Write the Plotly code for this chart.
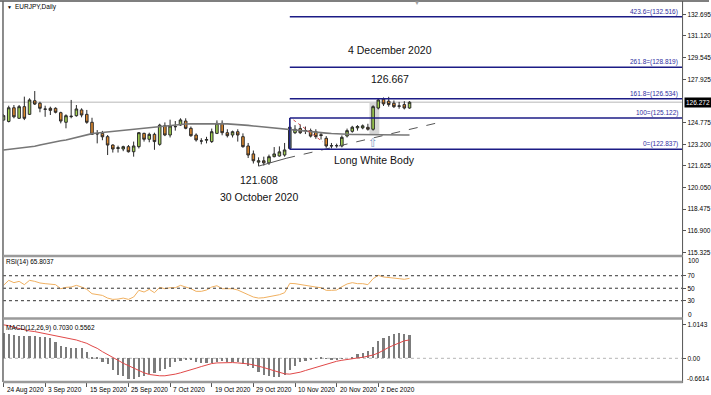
import plotly.graph_objects as go

W, H = 711, 395
def px(x): return x / W
def py(y): return 1 - y / H

# ---------------- data ----------------
opens = [124.97,124.87,125.87,125.10,125.95,125.39,126.38,126.20,125.78,125.83,
         125.83,125.51,124.81,125.22,125.29,125.71,125.39,124.81,123.99,124.00,
         123.76,123.15,122.90,122.86,123.03,122.66,123.03,124.00,123.57,123.93,
         123.20,124.56,123.88,124.48,124.61,124.90,124.37,123.88,123.45,123.50,
         123.40,124.00,124.73,124.05,123.88,124.12,123.76,123.08,122.50,121.90,
         122.00,121.85,122.30,122.35,122.42,122.90,124.05,124.35,124.20,124.20,
         124.12,123.90,123.64,123.08,123.10,123.08,123.81,124.15,124.40,124.40,
         124.44,124.30,125.85,126.50,126.35,126.20,125.98,126.10,125.85]
highs = [125.40,126.02,126.07,126.07,126.68,126.56,127.09,126.31,126.02,125.95,
         125.90,125.58,125.39,126.44,126.07,125.83,125.71,125.14,124.24,124.18,
         123.88,123.20,123.10,123.10,123.15,123.40,124.10,124.05,124.05,124.05,
         124.70,124.80,125.00,124.90,125.10,125.10,124.50,124.00,123.65,123.75,
         124.35,124.95,124.95,124.30,124.20,124.30,124.00,123.30,122.75,122.25,
         122.30,122.45,123.00,123.05,123.30,125.122,124.60,124.65,124.50,124.35,
         124.30,124.10,123.80,123.30,123.25,123.85,124.35,124.55,124.60,124.65,
         124.70,126.05,126.55,126.62,126.667,126.40,126.30,126.35,126.35]
lows = [124.90,124.80,125.10,125.05,124.97,125.34,126.07,125.54,125.21,125.34,
        125.46,124.73,124.37,125.10,125.22,125.17,124.70,123.88,123.27,123.50,
        122.42,122.60,122.60,122.70,122.60,122.30,122.90,123.40,123.35,122.80,
        123.10,123.80,123.70,124.20,124.55,124.30,123.75,123.40,123.20,123.27,
        123.30,123.95,123.86,123.70,123.70,123.40,122.95,122.20,121.80,121.608,
        121.65,121.70,122.25,122.30,122.30,122.837,123.95,123.95,123.95,123.70,
        123.60,123.55,122.95,122.90,122.95,122.98,123.70,124.05,124.20,124.30,
        124.20,124.20,125.75,126.00,125.95,125.85,125.80,125.75,125.80]
closes = [125.30,125.87,125.21,125.95,125.10,126.44,126.14,125.83,125.76,125.68,
          125.54,124.90,125.29,125.25,125.78,125.34,124.81,123.93,123.96,123.75,
          123.15,122.86,122.95,123.03,122.66,123.08,124.05,123.57,123.93,123.40,
          124.60,123.88,124.54,124.50,124.98,124.37,123.83,123.52,123.44,123.55,
          124.12,124.73,124.05,123.83,124.12,123.88,123.03,122.42,122.00,122.00,
          121.85,122.30,122.50,122.65,122.79,124.45,124.30,124.05,124.21,123.80,
          123.76,123.85,123.08,123.10,123.10,123.71,124.20,124.45,124.50,124.55,
          124.30,125.95,126.44,126.15,126.10,125.95,126.00,125.85,126.272]
ma = [122.78,122.82,122.86,122.90,122.95,123.00,123.06,123.15,123.24,123.31,
      123.39,123.46,123.52,123.62,123.73,123.83,123.93,123.98,124.03,124.07,
      124.11,124.15,124.19,124.23,124.27,124.30,124.34,124.38,124.42,124.45,
      124.49,124.53,124.57,124.60,124.64,124.68,124.69,124.70,124.71,124.72,
      124.72,124.71,124.70,124.69,124.67,124.66,124.62,124.58,124.54,124.50,
      124.46,124.41,124.37,124.33,124.29,124.25,124.22,124.19,124.15,124.12,
      124.09,124.06,124.02,123.99,123.96,123.94,123.93,123.92,123.92,123.91,
      123.91,123.90,123.90,123.90,123.89,123.89,123.89,123.88,123.88]
rsi = [54.6,62.6,58.9,61.0,55.7,62.6,61.0,58.4,57.3,56.8,
       55.7,49.2,51.4,51.9,54.6,51.9,48.2,41.2,39.6,38.5,
       34.2,32.1,32.6,34.2,32.1,35.9,46.6,43.9,48.2,42.8,
       51.4,49.2,50.8,50.8,54.6,51.9,49.2,45.0,45.0,47.1,
       51.9,54.0,49.2,49.2,49.2,47.1,43.9,39.6,35.9,34.2,
       34.8,36.4,38.0,39.6,42.8,57.8,57.3,55.7,54.6,52.4,
       51.9,50.8,46.6,46.6,47.1,52.4,56.8,58.9,57.3,57.3,
       55.7,65.3,70.6,68.0,67.5,66.4,65.3,64.3,65.8037]
macd = [0.757,0.727,0.706,0.686,0.686,0.686,0.686,0.656,0.636,0.605,
        0.504,0.383,0.332,0.302,0.302,0.302,0.201,0.05,0.02,-0.10,
        -0.18,-0.35,-0.50,-0.55,-0.62,-0.62,-0.58,-0.55,-0.48,-0.45,
        -0.38,-0.32,-0.25,-0.10,-0.07,-0.04,-0.05,-0.12,-0.15,-0.15,
        -0.15,-0.10,-0.08,-0.10,-0.10,-0.12,-0.17,-0.22,-0.30,-0.40,
        -0.50,-0.55,-0.58,-0.58,-0.52,-0.35,-0.22,-0.12,-0.07,-0.04,
        -0.01,0.01,-0.01,-0.03,-0.05,-0.02,0.0,0.05,0.12,0.15,
        0.22,0.35,0.525,0.605,0.686,0.727,0.757,0.727,0.7030]
signal = [1.0143,0.99,0.94,0.90,0.87,0.83,0.81,0.78,0.74,0.706,
          0.686,0.656,0.625,0.595,0.555,0.504,0.454,0.373,0.302,0.201,
          0.12,0.04,-0.06,-0.15,-0.22,-0.30,-0.38,-0.44,-0.49,-0.52,
          -0.53,-0.53,-0.51,-0.48,-0.44,-0.40,-0.35,-0.30,-0.25,-0.20,
          -0.16,-0.14,-0.13,-0.13,-0.13,-0.14,-0.15,-0.17,-0.20,-0.23,
          -0.28,-0.33,-0.38,-0.43,-0.47,-0.48,-0.46,-0.42,-0.37,-0.32,
          -0.27,-0.22,-0.18,-0.13,-0.09,-0.06,-0.03,-0.01,0.01,0.03,
          0.06,0.10,0.16,0.25,0.33,0.40,0.47,0.53,0.5562]
date_idx = [0, 8, 16, 24, 32, 40, 48, 56, 64, 72]
date_labels = ["24 Aug 2020", "3 Sep 2020", "15 Sep 2020", "25 Sep 2020", "7 Oct 2020",
               "19 Oct 2020", "29 Oct 2020", "10 Nov 2020", "20 Nov 2020", "2 Dec 2020"]
price_ticks = [132.695, 131.120, 129.545, 127.925, 124.775, 123.200, 121.625,
               120.050, 118.475, 116.900, 115.325]
fib_levels = [122.837, 125.122, 126.534, 128.819, 132.516]
fib_names = ["0", "100", "161.8", "261.8", "423.6"]
fib_start = 55
last_price = 126.272
low_idx, low_val = 49, 121.608
high_val = 126.667
trend_end = (84.3, 124.85)
trend_mid = (54.3, 122.18)
red_line = [(55.7, 124.98), (61.3, 123.39)]
rsi_levels = [70, 50, 30]

x = list(range(len(opens)))
FONT = "Liberation Sans, Arial, sans-serif"
XR = [-0.1, 130.36]

fig = go.Figure()

fig.add_trace(go.Candlestick(
    x=x, open=opens, high=highs, low=lows, close=closes,
    increasing=dict(fillcolor="#a4d452", line=dict(color="#2a2a2a", width=1)),
    decreasing=dict(fillcolor="#e0892c", line=dict(color="#2a2a2a", width=1)),
    whiskerwidth=0, xaxis="x", yaxis="y", showlegend=False, hoverinfo="skip"))
fig.add_trace(go.Scatter(x=x, y=ma, mode="lines", line=dict(color="#777777", width=1.6),
                         xaxis="x", yaxis="y", showlegend=False, hoverinfo="skip"))
fig.add_trace(go.Scatter(x=[low_idx, trend_mid[0]], y=[low_val, trend_mid[1]], mode="lines",
                         line=dict(color="#555555", width=1), xaxis="x", yaxis="y", showlegend=False))
fig.add_trace(go.Scatter(x=[trend_mid[0], trend_end[0]], y=[trend_mid[1], trend_end[1]], mode="lines",
                         line=dict(color="#555555", width=1, dash="dash"), xaxis="x", yaxis="y", showlegend=False))
fig.add_trace(go.Scatter(x=[p[0] for p in red_line], y=[p[1] for p in red_line], mode="lines",
                         line=dict(color="#d04848", width=1, dash="dot"), xaxis="x", yaxis="y", showlegend=False))
for lv in fib_levels:
    fig.add_trace(go.Scatter(x=[fib_start, XR[1]], y=[lv, lv], mode="lines",
                             line=dict(color="#1c1c86", width=1.5), xaxis="x", yaxis="y",
                             showlegend=False, hoverinfo="skip"))
fig.add_trace(go.Scatter(x=[fib_start, fib_start], y=[fib_levels[0], fib_levels[1]], mode="lines",
                         line=dict(color="#1c1c86", width=1.5), xaxis="x", yaxis="y", showlegend=False))

fig.add_trace(go.Scatter(x=x, y=rsi, mode="lines", line=dict(color="#f0b060", width=1),
                         xaxis="x2", yaxis="y2", showlegend=False, hoverinfo="skip"))
fig.add_trace(go.Bar(x=x, y=macd, width=0.42, marker=dict(color="#7c7c7c", line=dict(width=0)),
                     xaxis="x3", yaxis="y3", showlegend=False, hoverinfo="skip"))
fig.add_trace(go.Scatter(x=x, y=signal, mode="lines", line=dict(color="#e04848", width=1),
                         xaxis="x3", yaxis="y3", showlegend=False, hoverinfo="skip"))

shapes = []
shapes.append(dict(type="rect", xref="x", yref="y", x0=70.3, x1=72.2, y0=123.88, y1=126.24,
                   fillcolor="#d6d6d6", line=dict(width=0), layer="below"))
shapes.append(dict(type="line", xref="paper", yref="y", x0=px(3), x1=px(684), y0=last_price, y1=last_price,
                   line=dict(color="#cfcfcf", width=1.5), layer="below"))
for lv in rsi_levels:
    shapes.append(dict(type="line", xref="paper", yref="y2", x0=px(3), x1=px(684), y0=lv, y1=lv,
                       line=dict(color="#333333", width=1, dash="dot")))
shapes.append(dict(type="line", xref="paper", yref="y3", x0=px(3), x1=px(684), y0=0, y1=0,
                   line=dict(color="#b5b5b5", width=1, dash="dot"), layer="below"))
shapes.append(dict(type="line", xref="paper", yref="paper", x0=0, x1=1, y0=py(1), y1=py(1),
                   line=dict(color="#555555", width=1.5)))
shapes.append(dict(type="line", xref="paper", yref="paper", x0=px(3), x1=px(3), y0=py(1), y1=py(382),
                   line=dict(color="#666666", width=1.5)))
shapes.append(dict(type="line", xref="paper", yref="paper", x0=px(684.5), x1=px(684.5), y0=py(1), y1=py(383),
                   line=dict(color="#555555", width=1)))
for yy in [256, 318.5, 382]:
    shapes.append(dict(type="line", xref="paper", yref="paper", x0=px(3), x1=px(684.5), y0=py(yy), y1=py(yy),
                       line=dict(color="#9a9a9a", width=2.5)))

annotations = []
def ann(text, xx, yy, size=6.5, color="#000", xanchor="left", yanchor="middle", xref="paper", yref="paper", **kw):
    annotations.append(dict(text=text, x=xx, y=yy, xref=xref, yref=yref, showarrow=False,
                            font=dict(family=FONT, size=size, color=color),
                            xanchor=xanchor, yanchor=yanchor, **kw))

ann("▼", px(5.5), py(7), size=5)
ann("EURJPY,Daily", px(13), py(7.5))
ann("▼", px(418), py(3), size=6, color="#a0a0a0", xanchor="center")
ann("RSI(14) 65.8037", px(4.5), py(262))
ann("MACD(12,26,9) 0.7030 0.5562", px(4.5), py(327.5))

for nm, lv in zip(fib_names, fib_levels):
    ann(f"{nm}=({lv:.3f})", px(682), lv, color="#2e2ea0", xanchor="right", yanchor="bottom", yref="y", yshift=-1)

ann("4 December 2020", 74.3, 130.1, size=10.5, xanchor="center", xref="x", yref="y", color="#111")
ann(f"{high_val:.3f}", 74.3, 128.0, size=10.5, xanchor="center", xref="x", yref="y", color="#111")
ann(f"{low_val:.3f}", low_idx, 120.60, size=10.5, xanchor="center", xref="x", yref="y", color="#111")
ann("30 October 2020", low_idx, 119.35, size=10.5, xanchor="center", xref="x", yref="y", color="#111")
ann("Long White Body", 71.2, 122.07, size=10.5, xanchor="center", xref="x", yref="y", color="#111")
ann("⇧", 71, 123.3, size=13, xanchor="center", xref="x", yref="y", color="#7f9cc4",
    font_family="DejaVu Sans") if False else None
annotations.append(dict(text="⇧", x=71, y=123.3, xref="x", yref="y", showarrow=False,
                        font=dict(family="DejaVu Sans", size=12, color="#7f9cc4"),
                        xanchor="center", yanchor="middle"))

annotations.append(dict(text=f"{last_price:.3f}", x=px(685.5), y=last_price, xref="paper", yref="y",
                        showarrow=False, font=dict(family=FONT, size=6.5, color="#ffffff"),
                        xanchor="left", yanchor="middle", bgcolor="#000000", borderpad=1))
ann("100", px(688), py(260.5))
ann("0", px(688), py(314))
ann("-0.6614", px(687), py(378), size=6.5)

for i, t in zip(date_idx, date_labels):
    annotations.append(dict(text=t, x=i, y=py(383.5), xref="x3", yref="paper", showarrow=False,
                            font=dict(family=FONT, size=6.5, color="#000"),
                            xanchor="left", yanchor="top", xshift=1))

axis_common = dict(showgrid=False, zeroline=False, showline=False, range=XR, fixedrange=True)
layout = dict(
    width=W, height=H, margin=dict(l=0, r=0, t=0, b=0),
    paper_bgcolor="white", plot_bgcolor="white",
    font=dict(family=FONT, size=6.5, color="#000"),
    showlegend=False, bargap=0,
    xaxis=dict(domain=[px(3), px(684)], anchor="y", showticklabels=False, ticks="",
               rangeslider=dict(visible=False), **axis_common),
    xaxis2=dict(domain=[px(3), px(684)], anchor="y2", showticklabels=False, ticks="", **axis_common),
    xaxis3=dict(domain=[px(3), px(684)], anchor="y3", showticklabels=False, ticks="outside",
                tickvals=date_idx, ticklen=4, tickcolor="#555", **axis_common),
    yaxis=dict(domain=[py(255), py(2)], range=[115.122, 133.589], side="right", anchor="x",
               showgrid=False, zeroline=False, tickvals=price_ticks,
               ticktext=[f"{v:.3f}" for v in price_ticks], ticks="outside", ticklen=3,
               tickcolor="#555", tickfont=dict(size=6.5), fixedrange=True),
    yaxis2=dict(domain=[py(316.5), py(257)], range=[4.7, 100], side="right", anchor="x2",
                showgrid=False, zeroline=False, tickvals=[70, 50, 30], ticktext=["70", "50", "30"],
                ticks="outside", ticklen=3, tickcolor="#555", tickfont=dict(size=6.5), fixedrange=True),
    yaxis3=dict(domain=[py(381.5), py(320)], range=[-0.703, 1.161], side="right", anchor="x3",
                showgrid=False, zeroline=False, tickvals=[1.0143, 0], ticktext=["1.0143", "0.00"],
                ticks="outside", ticklen=3, tickcolor="#555", tickfont=dict(size=6.5), fixedrange=True),
    shapes=shapes, annotations=annotations,
)
fig.update_layout(**layout)
fig.write_html("out.html", config={"displayModeBar": False},
               post_script="document.body.style.margin='0px';document.body.style.overflow='hidden';")
